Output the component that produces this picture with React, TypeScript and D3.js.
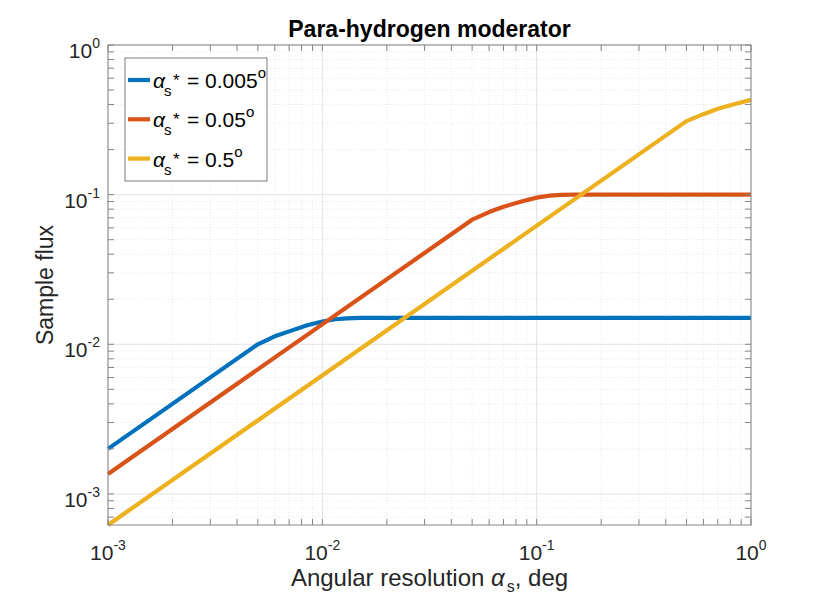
import * as d3 from "d3";

const title = "Para-hydrogen moderator";
const xDomain: [number, number] = [1e-3, 1];
const yDomain: [number, number] = [6.2e-4, 1];
const xMajor = [1e-3, 1e-2, 1e-1, 1];
const xMajorExp = ["-3", "-2", "-1", "0"];
const yMajor = [1e-3, 1e-2, 1e-1, 1];
const yMajorExp = ["-3", "-2", "-1", "0"];

const labels = ["0.005", "0.05", "0.5"];
const colors = ["#0072BD", "#D95319", "#EDB120"];

const blueX = [0.001, 0.005, 0.006, 0.007, 0.0085, 0.01, 0.0115, 0.013, 0.015, 1];
const blueY = [0.002, 0.01, 0.0113, 0.0122, 0.0134, 0.0142, 0.0147, 0.0149, 0.015, 0.015];
const redX = [0.001, 0.05, 0.06, 0.07, 0.085, 0.1, 0.115, 0.13, 0.15, 1];
const redY = [0.00136, 0.068, 0.0765, 0.083, 0.09, 0.0955, 0.0985, 0.0995, 0.1, 0.1];
const yellowX = [0.001, 0.5, 0.6, 0.7, 0.85, 1];
const yellowY = [0.00062, 0.31, 0.345, 0.375, 0.405, 0.43];

const seriesX = [blueX, redX, yellowX];
const seriesY = [blueY, redY, yellowY];

const W = 830;
const H = 605;
const m = { left: 108, right: 79, top: 45, bottom: 80 };

export default function App() {
  const x = d3.scaleLog().domain(xDomain).range([m.left, W - m.right]);
  const y = d3.scaleLog().domain(yDomain).range([H - m.bottom, m.top]);
  const x0 = m.left, x1 = W - m.right, y0 = H - m.bottom, y1 = m.top;

  const minor = (dom: [number, number]) => {
    const out: number[] = [];
    for (let e = -4; e <= 0; e++) {
      for (let k = 2; k <= 9; k++) {
        const v = k * Math.pow(10, e);
        if (v > dom[0] && v < dom[1]) out.push(v);
      }
    }
    return out;
  };
  const xMinor = minor(xDomain);
  const yMinor = minor(yDomain);

  const paths = seriesX.map((xs, s) => {
    const l = d3
      .line<number>()
      .x((v) => x(v))
      .y((_, i) => y(seriesY[s][i]));
    return l(xs) || "";
  });

  const font = "'Liberation Sans', Arial, sans-serif";
  const axisColor = "#858585";
  const textColor = "#262626";
  const tick = 6;

  return (
    <svg width={W} height={H} style={{ position: "absolute", left: 0, top: 0, background: "#fff" }} fontFamily={font}>
      <rect x={0} y={0} width={W} height={H} fill="#fff" />
      {/* minor grid */}
      {xMinor.map((v, i) => (
        <line key={"xm" + i} x1={x(v)} x2={x(v)} y1={y0} y2={y1} stroke="#d8d8d8" strokeWidth={0.6} strokeDasharray="1,2" />
      ))}
      {yMinor.map((v, i) => (
        <line key={"ym" + i} x1={x0} x2={x1} y1={y(v)} y2={y(v)} stroke="#d8d8d8" strokeWidth={0.6} strokeDasharray="1,2" />
      ))}
      {/* major grid */}
      {xMajor.map((v, i) => (
        <line key={"xg" + i} x1={x(v)} x2={x(v)} y1={y0} y2={y1} stroke="#e3e3e3" strokeWidth={1} />
      ))}
      {yMajor.map((v, i) => (
        <line key={"yg" + i} x1={x0} x2={x1} y1={y(v)} y2={y(v)} stroke="#e3e3e3" strokeWidth={1} />
      ))}
      {/* data */}
      {paths.map((d, i) => (
        <path key={"p" + i} d={d} fill="none" stroke={colors[i]} strokeWidth={4.2} strokeLinejoin="round" />
      ))}
      {/* axes box */}
      <rect x={x0} y={y1} width={x1 - x0} height={y0 - y1} fill="none" stroke={axisColor} strokeWidth={1} />
      {/* ticks */}
      {[...xMajor, ...xMinor].map((v, i) => (
        <g key={"xt" + i}>
          <line x1={x(v)} x2={x(v)} y1={y0} y2={y0 - tick} stroke={axisColor} />
          <line x1={x(v)} x2={x(v)} y1={y1} y2={y1 + tick} stroke={axisColor} />
        </g>
      ))}
      {[...yMajor, ...yMinor].map((v, i) => (
        <g key={"yt" + i}>
          <line x1={x0} x2={x0 + tick} y1={y(v)} y2={y(v)} stroke={axisColor} />
          <line x1={x1} x2={x1 - tick} y1={y(v)} y2={y(v)} stroke={axisColor} />
        </g>
      ))}
      {/* x tick labels */}
      {xMajor.map((v, i) => (
        <text key={"xl" + i} x={x(v)} y={y0 + 35} textAnchor="middle" fontSize={21} fill={textColor}>
          10
          <tspan dy={-10} fontSize={14}>{xMajorExp[i]}</tspan>
        </text>
      ))}
      {/* y tick labels */}
      {yMajor.map((v, i) => (
        <text key={"yl" + i} x={x0 - 8} y={y(v) + 13} textAnchor="end" fontSize={21} fill={textColor}>
          10
          <tspan dy={-10} fontSize={14}>{yMajorExp[i]}</tspan>
        </text>
      ))}
      {/* title */}
      <text x={(x0 + x1) / 2} y={37} textAnchor="middle" fontSize={23} fontWeight="bold" fill="#000">
        {title}
      </text>
      {/* x label */}
      <text x={(x0 + x1) / 2} y={586} textAnchor="middle" fontSize={24} fill={textColor}>
        Angular resolution <tspan fontStyle="italic">α</tspan>
        <tspan dy={6} dx={2} fontSize={16}>s</tspan>
        <tspan dy={-6}>, deg</tspan>
      </text>
      {/* y label */}
      <text transform={`translate(53,${(y0 + y1) / 2}) rotate(-90)`} textAnchor="middle" fontSize={23} fill={textColor}>
        Sample flux
      </text>
      {/* legend */}
      <rect x={125} y={58} width={142} height={123} fill="#fff" stroke="#262626" strokeWidth={0.6} />
      {labels.map((lab, i) => {
        const ly = 80 + i * 39.3;
        const base = ly + 8;
        return (
          <g key={"lg" + i}>
            <line x1={128} x2={150} y1={ly} y2={ly} stroke={colors[i]} strokeWidth={4.2} />
            <text x={153} y={base} fontSize={21} fontStyle="italic" fill="#000">α</text>
            <text x={164} y={base + 8} fontSize={15} fill="#000">s</text>
            <text x={173} y={base - 2} fontSize={17} fill="#000">*</text>
            <text x={187} y={base} fontSize={21} fill="#000">
              {"= " + lab}
              <tspan dy={-10} fontSize={15}>o</tspan>
            </text>
          </g>
        );
      })}
    </svg>
  );
}
